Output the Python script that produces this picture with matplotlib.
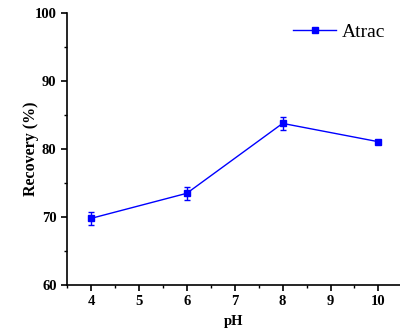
import matplotlib
matplotlib.use("Agg")
import matplotlib.pyplot as plt
from matplotlib.lines import Line2D
from matplotlib.ticker import MultipleLocator

ph = [4, 6, 8, 10]
recovery = [69.8, 73.5, 83.8, 81.1]
errors = [1.0, 1.0, 1.0, 0.3]

plt.rcParams['font.family'] = ['Liberation Serif', 'DejaVu Serif']

fig = plt.figure(figsize=(4.0, 3.36), dpi=100)
ax = fig.add_axes([0.1675, 0.152, 0.8325, 0.808])

ax.errorbar(ph, recovery, yerr=errors, color='#0000ff', marker='s', markersize=5,
            linewidth=1.0, elinewidth=1.0, capsize=2.5, capthick=1.0)

ax.set_xlim(3.5, 10.45)
ax.set_ylim(60, 100)
ax.xaxis.set_major_locator(MultipleLocator(1))
ax.xaxis.set_minor_locator(MultipleLocator(0.5))
ax.yaxis.set_major_locator(MultipleLocator(10))
ax.yaxis.set_minor_locator(MultipleLocator(5))

for s in ('top', 'right'):
    ax.spines[s].set_visible(False)
for s in ('left', 'bottom'):
    ax.spines[s].set_linewidth(1.2)

ax.tick_params(which='major', direction='out', length=4.5, width=1.2, labelsize=10.5, pad=3)
ax.tick_params(which='minor', direction='out', length=2.5, width=1.0)
for lbl in ax.get_xticklabels() + ax.get_yticklabels():
    lbl.set_fontweight('bold')

ax.set_xlabel('pH', fontsize=10.5, fontweight='bold', labelpad=5)
ax.set_ylabel('Recovery (%)', fontsize=11.5, fontweight='bold', labelpad=-3)

handle = Line2D([], [], color='#0000ff', marker='s', markersize=5, linewidth=1.0)
ax.legend([handle], ['Atrac'], loc='upper right', frameon=False, fontsize=14,
          handlelength=2.2, borderaxespad=0.1, handletextpad=0.3,
          bbox_to_anchor=(0.985, 1.0))

fig.savefig('out.png', dpi=100)
